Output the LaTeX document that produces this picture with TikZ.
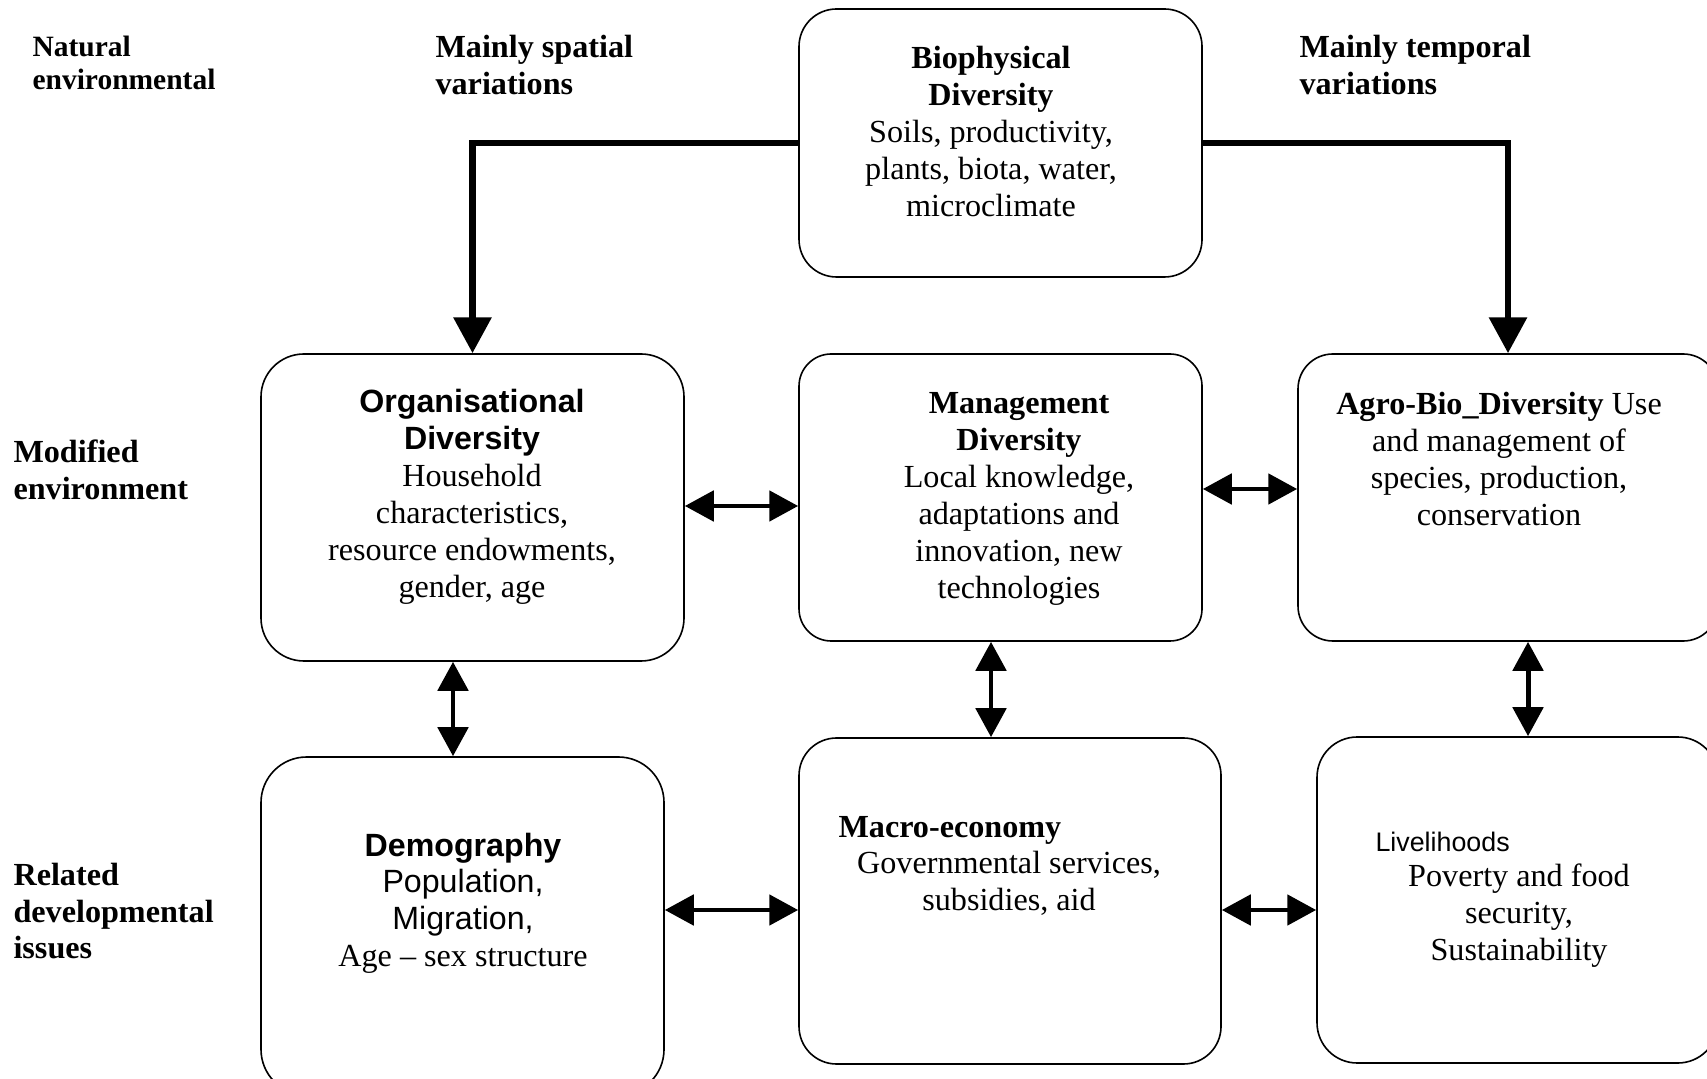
\documentclass[tikz,border=0pt]{standalone}
\usepackage{fontspec}
\setmainfont{Liberation Serif}
\setsansfont{Liberation Sans}
\usetikzlibrary{arrows.meta,fit}
\newcommand{\mylines}[2][c]{\begin{tabular}[t]{@{}#1@{}}#2\end{tabular}}
\tikzset{
  box/.style={draw, line width=0.6pt, rounded corners=#1, inner sep=0pt},
  txt/.style={inner sep=0pt, anchor=base, font=\fontsize{12}{13.8}\selectfont},
  lbl/.style={inner sep=0pt, anchor=base west, font=\bfseries\fontsize{12}{13.8}\selectfont},
  big/.style={line width=2.4pt, -{Triangle[length=13.4pt,width=13.8pt]}},
  dbl/.style={line width=1.85pt, {Triangle[length=10.8pt,width=11.2pt]}-{Triangle[length=10.8pt,width=11.2pt]}}
}
\begin{document}
\begin{tikzpicture}[x=0.373pt, y=-0.373pt]
\useasboundingbox (0,0) rectangle (1707,1079);
\clip (0,0) rectangle (1707,1079);

% boxes
\node (bio)   [box=14pt, fit={(799,9) (1202,277)}] {};
\node (org)   [box=16pt, fit={(261,354) (684,661)}] {};
\node (mgmt)  [box=12pt, fit={(799,354) (1202,641)}] {};
\node (agro)  [box=13pt, fit={(1298,354) (1718,641)}] {};
\node (demo)  [box=17pt, fit={(261,757) (664,1095)}] {};
\node (macro) [box=14pt, fit={(799,738) (1221,1064)}] {};
\node (live)  [box=15pt, fit={(1317,737) (1718,1063)}] {};

% side labels
\node (lnat) [lbl, font=\bfseries\fontsize{11}{12.3}\selectfont] at (32,57) {\mylines[l]{Natural\\environmental}};
\node (lspa) [lbl] at (435,58) {\mylines[l]{Mainly spatial\\variations}};
\node (ltem) [lbl] at (1299,58) {\mylines[l]{Mainly temporal\\variations}};
\node (lmod) [lbl] at (13,463) {\mylines[l]{Modified\\environment}};
\node (lrel) [lbl] at (13,885) {\mylines[l]{Related\\developmental\\issues}};

% box texts
\node (tbio) [txt] at (991,69) {\mylines{\textbf{Biophysical}\\\textbf{Diversity}\\Soils, productivity,\\plants, biota, water,\\microclimate}};
\node (torg) [txt] at (472,413) {\mylines{\sffamily\bfseries Organisational\\\sffamily\bfseries Diversity\\Household\\characteristics,\\resource endowments,\\gender, age}};
\node (tmgmt) [txt] at (1019,414) {\mylines{\textbf{Management}\\\textbf{Diversity}\\Local knowledge,\\adaptations and\\innovation, new\\technologies}};
\node (tagro) [txt] at (1499,415) {\mylines{\textbf{Agro-Bio\_Diversity} Use\\and management of\\species, production,\\conservation}};
\node (tdemo) [txt] at (463,856) {\mylines{\sffamily\bfseries Demography\\\sffamily Population,\\\sffamily Migration,\\Age -- sex structure}};
\node (tmac1) [txt, anchor=base west] at (838,837) {\textbf{Macro-economy}};
\node (tmac2) [txt] at (1009,873) {\mylines{Governmental services,\\subsidies, aid}};
\node (tliv1) [txt, anchor=base west, font=\sffamily\fontsize{10}{11.5}\selectfont] at (1375,851) {Livelihoods};
\node (tliv2) [txt] at (1519,886) {\mylines{Poverty and food\\security,\\Sustainability}};

% arrow levels
\coordinate (hA) at (0,506);
\coordinate (hB) at (0,489);
\coordinate (hC) at (0,910);
\coordinate (vA) at (453,0);
\coordinate (vB) at (991,0);
\coordinate (vC) at (1528,0);

% connectors
\draw[big] (bio.west) -| (org.north);
\draw[big] (bio.east) -| (agro.north);
\draw[dbl] (org.east |- hA) -- (mgmt.west |- hA);
\draw[dbl] (mgmt.east |- hB) -- (agro.west |- hB);
\draw[dbl] (org.south -| vA) -- (demo.north -| vA);
\draw[dbl] (mgmt.south -| vB) -- (macro.north -| vB);
\draw[dbl] (agro.south -| vC) -- (live.north -| vC);
\draw[dbl] (demo.east |- hC) -- (macro.west |- hC);
\draw[dbl] (macro.east |- hC) -- (live.west |- hC);
\end{tikzpicture}
\end{document}
